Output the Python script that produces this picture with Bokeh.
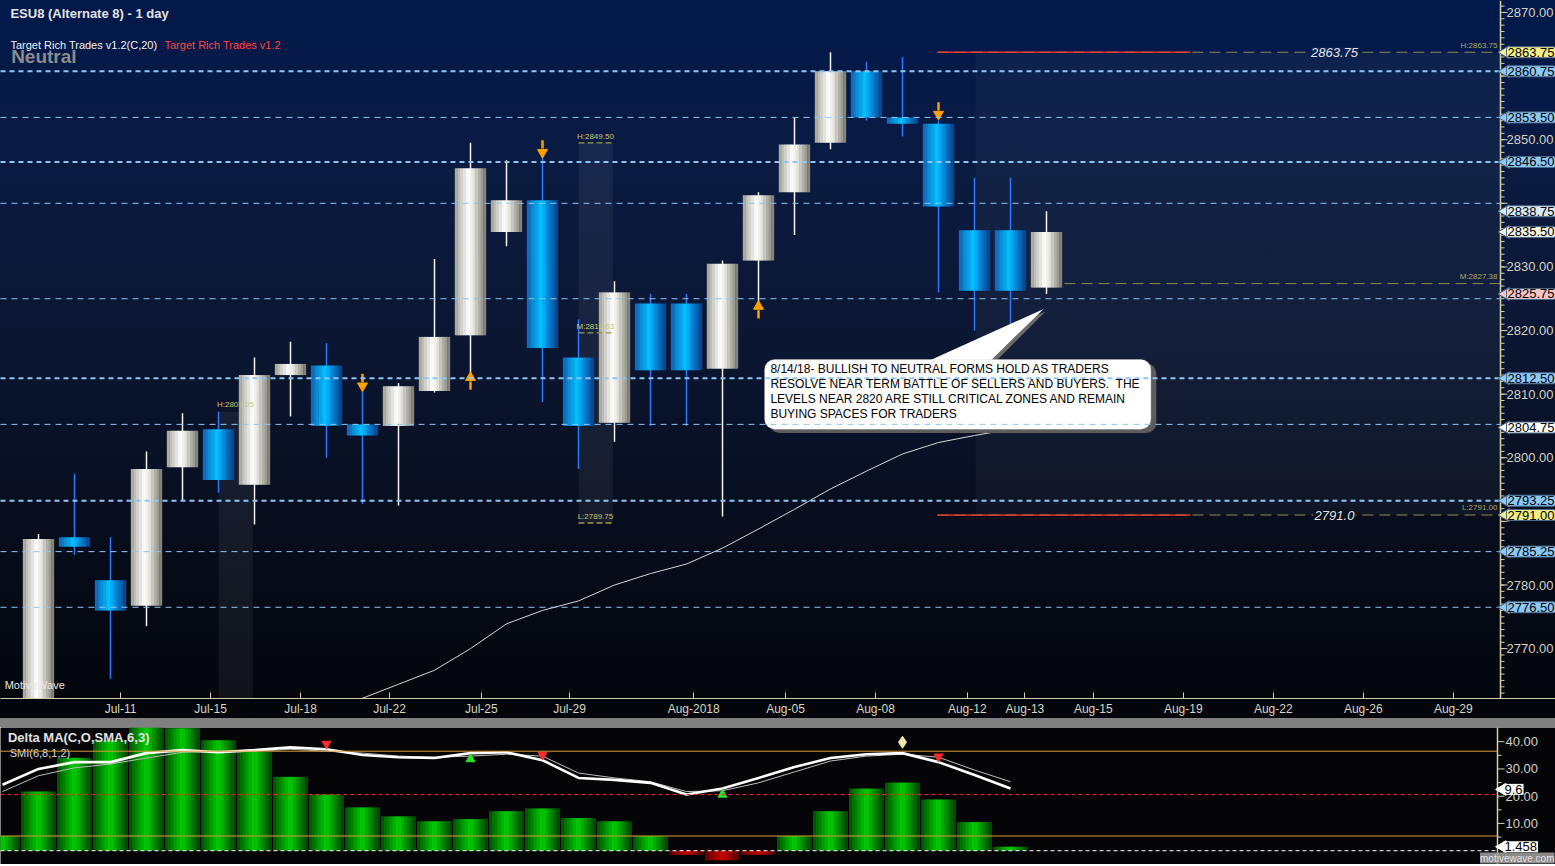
import numpy as np
from bokeh.plotting import figure
from bokeh.models import (Range1d, FixedTicker, Label, BoxAnnotation, ColumnDataSource, Div)
from bokeh.layouts import column
from bokeh.embed import file_html
from bokeh.resources import INLINE
from bokeh.core.properties import value

FONT = "Liberation Sans"

# ------------------------------------------------------------------ data
bar_index = list(range(29))
opens = [2755.0, 2787.5, 2780.75, 2776.75, 2798.5, 2804.5, 2795.75, 2813.0, 2814.5, 2805.25,
         2805.0, 2810.5, 2819.25, 2835.5, 2840.5, 2815.75, 2805.5, 2824.25, 2824.25, 2814.0,
         2831.0, 2841.75, 2849.5, 2860.75, 2853.5, 2852.5, 2835.75, 2835.75, 2826.75]
highs = [2788.0, 2797.5, 2787.5, 2801.0, 2807.0, 2807.25, 2815.75, 2818.25, 2818.0, 2812.75,
         2811.75, 2831.25, 2849.5, 2846.75, 2847.25, 2821.75, 2827.75, 2825.75, 2825.75, 2831.0,
         2841.75, 2853.5, 2863.75, 2862.25, 2863.0, 2853.0, 2844.0, 2844.0, 2838.75]
lows = [2750.0, 2784.75, 2765.25, 2773.5, 2793.25, 2794.5, 2789.5, 2806.5, 2800.0, 2792.75,
        2792.5, 2810.25, 2812.25, 2833.25, 2808.75, 2798.25, 2802.5, 2805.0, 2805.0, 2790.75,
        2824.5, 2835.0, 2848.5, 2853.0, 2850.5, 2826.0, 2820.0, 2820.75, 2825.75]
closes = [2787.25, 2786.0, 2776.0, 2798.25, 2804.25, 2796.5, 2813.0, 2814.75, 2805.0, 2803.5,
          2811.25, 2819.0, 2845.5, 2840.5, 2817.25, 2805.0, 2826.0, 2813.75, 2813.75, 2830.5,
          2841.25, 2849.25, 2860.75, 2853.5, 2852.5, 2839.5, 2826.25, 2826.25, 2835.5]

# Target Rich Trades (C,20) moving average
ma_index = list(range(8, 28))
ma_values = [2759.0, 2762.2, 2764.4, 2766.6, 2770.0, 2773.9, 2776.0, 2777.5, 2780.0, 2781.8,
             2783.3, 2785.8, 2788.8, 2791.9, 2795.1, 2797.9, 2800.6, 2802.4, 2803.5, 2804.5]

# date axis
x_tick_pos = [2.28, 4.78, 7.28, 9.75, 12.3, 14.75, 18.2, 20.75, 23.25, 25.8, 27.4, 29.3,
              31.8, 34.3, 36.8, 39.3]
x_tick_labels = ["Jul-11", "Jul-15", "Jul-18", "Jul-22", "Jul-25", "Jul-29", "Aug-2018",
                 "Aug-05", "Aug-08", "Aug-12", "Aug-13", "Aug-15", "Aug-19", "Aug-22",
                 "Aug-26", "Aug-29"]

price_ticks = [2770, 2780, 2790, 2800, 2810, 2820, 2830, 2840, 2850, 2860, 2870]
hidden_price_ticks = [2790, 2840, 2860]

# horizontal support / resistance levels
levels_major = [2860.75, 2846.5, 2812.5, 2793.25]
levels_minor = [2853.5, 2840.0, 2825.0, 2805.25, 2785.25, 2776.5]

# price tags on the right axis
tag_values = [2863.75, 2860.75, 2853.50, 2846.50, 2838.75, 2835.50, 2825.75, 2812.50,
              2804.75, 2793.25, 2791.00, 2785.25, 2776.50]
tag_colors = ["#f4ef8c", "#8cc8f8", "#8cc8f8", "#8cc8f8", "#d8ecf8", "#f4f2e0", "#f8c4c4",
              "#8cc8f8", "#ffffff", "#8cc8f8", "#eeee88", "#8cc8f8", "#8cc8f8"]

# Target Rich Trades range
trt_high = 2863.75
trt_low = 2791.00
trt_mid = 2827.38
session_high = 2849.50
session_mid = 2819.63
session_low = 2789.75
prev_session_high = 2807.25

# signal arrows
arrow_down_index = [9, 14, 25]
arrow_down_price = [2811.3, 2848.0, 2854.0]
arrow_up_index = [12, 20]
arrow_up_price = [2812.6, 2823.8]

note_text = ("8/14/18- BULLISH TO NEUTRAL FORMS HOLD AS TRADERS\n"
             "RESOLVE NEAR TERM BATTLE OF SELLERS AND BUYERS.\u00a0 THE\n"
             "LEVELS NEAR 2820 ARE STILL CRITICAL ZONES AND REMAIN\n"
             "BUYING SPACES FOR TRADERS")

# lower panel : Delta MA histogram + SMI
osc_index = list(range(-1, 28))
delta_ma = [5.4, 21.7, 34.1, 40.5, 45.3, 44.9, 40.5, 36.2, 27.1, 20.6, 15.9, 12.6, 10.8, 11.6,
            14.5, 15.5, 12.0, 10.8, 5.4, -1.5, -3.5, -1.5, 5.4, 14.5, 22.8, 25.0, 18.8, 10.5,
            1.458]
smi = [24.2, 30.0, 32.5, 32.5, 35.8, 36.9, 36.1, 36.9, 37.9, 37.2, 35.1, 34.3, 34.0, 35.8,
       36.1, 33.2, 26.7, 26.0, 24.9, 20.6, 22.8, 26.7, 30.7, 34.0, 35.4, 35.8, 32.5, 27.8, 22.8]
smi_signal = [21.7, 27.5, 30.4, 31.8, 34.0, 36.1, 36.5, 36.5, 37.2, 36.5, 35.8, 34.7, 34.3,
              34.7, 35.4, 34.7, 28.5, 26.7, 25.3, 21.7, 22.0, 24.9, 28.9, 32.9, 34.7, 35.4,
              34.3, 29.6, 25.3]
smi_sell_index = [8, 14, 25]
smi_buy_index = [12, 19]
smi_alert_index = [24]
osc_ticks = [10, 20, 30, 40]
osc_minor_ticks = [5, 15, 25, 35]
osc_upper, osc_lower, osc_mid = 36.5, 5.4, 20.6
smi_tag = 9.6

# ------------------------------------------------------------------ helpers
def hex2rgb(h):
    h = h.lstrip("#")
    return tuple(int(h[i:i + 2], 16) for i in (0, 2, 4))


def lerp_color(stops, t):
    for (t0, c0), (t1, c1) in zip(stops[:-1], stops[1:]):
        if t0 <= t <= t1:
            f = (t - t0) / (t1 - t0) if t1 > t0 else 0.0
            a, b = hex2rgb(c0), hex2rgb(c1)
            return "#%02x%02x%02x" % tuple(round(x + (y - x) * f) for x, y in zip(a, b))
    return stops[-1][1]


def shaded_bars(xs, bottoms, tops, width, stops, n=12):
    X, W, B, T, C = [], [], [], [], []
    for x, b, t in zip(xs, bottoms, tops):
        for k in range(n):
            f = (k + 0.5) / n
            X.append(x + (f - 0.5) * width)
            W.append(width / n * 1.15)
            B.append(b)
            T.append(t)
            C.append(lerp_color(stops, f))
    return ColumnDataSource(dict(x=X, w=W, bottom=B, top=T, color=C))


WHITE_STOPS = [(0.0, "#a2a298"), (0.42, "#ffffff"), (0.6, "#e6e6de"), (1.0, "#78786e")]
BLUE_STOPS = [(0.0, "#1660b4"), (0.45, "#00c4ff"), (0.62, "#0898e8"), (1.0, "#083e86")]
GREEN_STOPS = [(0.0, "#004c00"), (0.5, "#00d400"), (1.0, "#003e00")]
RED_STOPS = [(0.0, "#5a0000"), (0.5, "#d00000"), (1.0, "#4a0000")]

PPU = 36.0                      # pixels per bar
FRAME_W = 1555
X0 = -38.0 / PPU                # left edge of the frame
AXIS_X = X0 + 1500.0 / PPU      # price-axis line
XMAX = X0 + FRAME_W / PPU       # right edge of the canvas
Y0, Y1 = 2762.16, 2871.88
AXIS_COLOR = "#d4d0aa"
LABEL_COLOR = "#d2d2c4"

x_range = Range1d(X0, XMAX)

# ------------------------------------------------------------------ main price panel
p = figure(frame_width=FRAME_W, frame_height=698, x_range=x_range,
           y_range=Range1d(Y0, Y1), output_backend="svg", toolbar_location=None,
           y_axis_location=None, min_border_left=0, min_border_right=0,
           min_border_top=0, min_border_bottom=0)
p.background_fill_alpha = 0
p.border_fill_alpha = 0
p.outline_line_color = None
p.grid.visible = False
p.styles = {"background": "linear-gradient(to bottom, #02194b 0%, #0a1b42 22%, "
                          "#0b1632 48%, #070d1c 74%, #03050a 100%)"}

# shaded zones
p.add_layout(BoxAnnotation(left=26.03, right=AXIS_X, top=trt_high, bottom=trt_low,
                           fill_color="#ffffff", fill_alpha=0.035, line_color=None,
                           level="underlay"))
p.add_layout(BoxAnnotation(left=15.0, right=15.95, top=session_high, bottom=session_low,
                           fill_color="#ffffff", fill_alpha=0.06, line_color=None,
                           level="underlay"))
p.add_layout(BoxAnnotation(left=5.0, right=5.95, top=prev_session_high, bottom=None,
                           fill_color="#ffffff", fill_alpha=0.06, line_color=None,
                           level="underlay"))

# moving average
p.line(ma_index, ma_values, line_color="#d8d8d8", line_width=1)

# candles
up = [c >= o for o, c in zip(opens, closes)]
for is_up, stops, wick in ((True, WHITE_STOPS, "#f4f4f0"), (False, BLUE_STOPS, "#2a78ff")):
    ids = [i for i in bar_index if up[i] == is_up]
    p.segment(x0=ids, x1=ids, y0=[lows[i] for i in ids], y1=[highs[i] for i in ids],
              line_color=wick, line_width=1.5)
    src = shaded_bars(ids, [min(opens[i], closes[i]) for i in ids],
                      [max(opens[i], closes[i]) for i in ids], 0.86, stops)
    p.vbar(x="x", width="w", bottom="bottom", top="top", fill_color="color",
           line_color=None, source=src)

# arrows
p.segment(x0=arrow_down_index, x1=arrow_down_index,
          y0=[v + 0.6 for v in arrow_down_price], y1=[v + 1.9 for v in arrow_down_price],
          line_color="#ffa000", line_width=2.5)
p.scatter(arrow_down_index, arrow_down_price, marker="inverted_triangle", size=10,
          fill_color="#ffa000", line_color="#ffa000")
p.segment(x0=arrow_up_index, x1=arrow_up_index,
          y0=[v - 0.6 for v in arrow_up_price], y1=[v - 1.9 for v in arrow_up_price],
          line_color="#ffa000", line_width=2.5)
p.scatter(arrow_up_index, arrow_up_price, marker="triangle", size=10,
          fill_color="#ffa000", line_color="#ffa000")

# target rich trades range lines
for lev, x_start in ((trt_high, 24.97), (trt_low, 24.97), (trt_mid, 28.5)):
    p.segment(x0=[x_start], x1=[AXIS_X], y0=[lev], y1=[lev], line_color="#8c8c52",
              line_width=1, line_dash="11 6")
for lev in (trt_high, trt_low):
    p.segment(x0=[24.97], x1=[32.0], y0=[lev], y1=[lev], line_color="#ff3a28", line_width=1.2)

# session band labels with underlines
for lev, txt in ((session_high, "H:%.2f" % session_high), (session_mid, "M:%.2f" % session_mid),
                 (session_low, "L:%.2f" % session_low)):
    p.segment(x0=[15.0], x1=[15.95], y0=[lev], y1=[lev], line_color="#9a9a48",
              line_width=1.4, line_dash="6 3")
    p.add_layout(Label(x=15.47, y=lev + 0.35, text=txt, text_font=FONT, text_font_size="8px",
                       text_color="#c8c87a", text_align="center", text_baseline="bottom"))
p.add_layout(Label(x=5.47, y=prev_session_high + 0.35, text="H:%.2f" % prev_session_high,
                   text_font=FONT, text_font_size="8px", text_color="#c8c87a",
                   text_align="center", text_baseline="bottom"))

# callout with pointer
p.patch([24.85, 27.97, 26.6], [2815.2, 2823.0, 2815.2], fill_color="#6a6a6a", line_color=None)
p.patch([24.75, 27.92, 26.45], [2815.3, 2823.4, 2815.3], fill_color="#ffffff",
        line_color=None)
p.add_layout(BoxAnnotation(left=20.3, right=31.05, top=2814.85, bottom=2803.9,
                           fill_color="#5c5c5c", fill_alpha=1, line_color=None,
                           border_radius=10))
p.add_layout(BoxAnnotation(left=20.17, right=30.9, top=2815.45, bottom=2804.5,
                           fill_color="#ffffff", fill_alpha=1, line_color="#d0d0d0",
                           border_radius=10))

# level lines (drawn on top of the callout)
p.segment(x0=[X0] * len(levels_major), x1=[AXIS_X] * len(levels_major), y0=levels_major,
          y1=levels_major, line_color="#8ec6f6", line_width=2, line_dash="5 4",
          level="overlay")
p.segment(x0=[X0] * len(levels_minor), x1=[AXIS_X] * len(levels_minor), y0=levels_minor,
          y1=levels_minor, line_color="#8ec6f6", line_width=1, line_dash="6 5",
          level="overlay")

p.add_layout(Label(x=20.33, y=2815.0, text=note_text, text_font=FONT, text_font_size="12px",
                   text_color="#000000", text_align="left", text_baseline="top",
                   text_line_height=1.06, level="overlay"))

# range values
p.add_layout(Label(x=36.0, y=trt_high, text="%.2f" % trt_high, text_font=FONT,
                   text_font_size="13px", text_font_style="italic", text_color="#e4e4e4",
                   text_align="center", text_baseline="middle",
                   background_fill_color="#0c2050", padding=1))
p.add_layout(Label(x=36.0, y=trt_low, text="%.1f" % trt_low, text_font=FONT,
                   text_font_size="13px", text_font_style="italic", text_color="#e4e4e4",
                   text_align="center", text_baseline="middle",
                   background_fill_color="#0a101e", padding=1))
for lev, txt in ((trt_high, "H:%.2f" % trt_high), (trt_mid, "M:%.2f" % trt_mid),
                 (trt_low, "L:%.2f" % trt_low)):
    p.add_layout(Label(x=AXIS_X, y=lev + 0.4, x_offset=-3, text=txt, text_font=FONT,
                       text_font_size="8px", text_color="#a8a866", text_align="right",
                       text_baseline="bottom"))

# headers
p.add_layout(Label(x=-0.78, y=2871.0, text="ESU8 (Alternate 8) - 1 day", text_font=FONT,
                   text_font_size="13px", text_font_style="bold", text_color="#e2e2e2",
                   text_align="left", text_baseline="top"))
p.add_layout(Label(x=-0.76, y=2864.7, text="Neutral", text_font=FONT, text_font_size="19px",
                   text_font_style="bold", text_color="#8c8c8c", text_align="left",
                   text_baseline="top"))
p.add_layout(Label(x=-0.78, y=2865.9, text="Target Rich Trades v1.2(C,20)", text_font=FONT,
                   text_font_size="11px", text_color="#f0f0f0", text_align="left",
                   text_baseline="top"))
p.add_layout(Label(x=3.5, y=2865.9, text="Target Rich Trades v1.2", text_font=FONT,
                   text_font_size="11px", text_color="#ff4444", text_align="left",
                   text_baseline="top"))
p.add_layout(Label(x=-0.94, y=2763.3, text="MotiveWave", text_font=FONT,
                   text_font_size="11px", text_color="#e8e8e8", text_align="left",
                   text_baseline="bottom"))

# date axis (real axis)
xa = p.xaxis[0]
xa.ticker = FixedTicker(ticks=x_tick_pos)
xa.major_label_overrides = {pos: lab for pos, lab in zip(x_tick_pos, x_tick_labels)}
xa.axis_line_color = AXIS_COLOR
xa.major_tick_line_color = AXIS_COLOR
xa.major_tick_in = 6
xa.major_tick_out = 0
xa.minor_tick_line_color = None
xa.major_label_standoff = 3
xa.major_label_text_color = "#d8d6c0"
xa.major_label_text_font = FONT
xa.major_label_text_font_size = "12px"

# price scale on the right
minor_price = list(np.arange(2763.0, 2872.0, 1.0))
p.segment(x0=[AXIS_X], x1=[AXIS_X], y0=[Y0], y1=[Y1], line_color=AXIS_COLOR, line_width=1.5)
p.segment(x0=[AXIS_X] * len(minor_price), x1=[AXIS_X + 4 / PPU] * len(minor_price),
          y0=minor_price, y1=minor_price, line_color=AXIS_COLOR, line_width=1)
p.segment(x0=[AXIS_X] * len(price_ticks), x1=[AXIS_X + 7 / PPU] * len(price_ticks),
          y0=price_ticks, y1=price_ticks, line_color=AXIS_COLOR, line_width=1)
shown_ticks = [t for t in price_ticks if t not in hidden_price_ticks]
p.text(x=[AXIS_X] * len(shown_ticks), y=shown_ticks, text=["%.2f" % t for t in shown_ticks],
       x_offset=6, text_font=value(FONT), text_font_size="13px", text_color=LABEL_COLOR,
       text_align="left", text_baseline="middle")

p.scatter(x=[AXIS_X + 5 / PPU] * len(tag_values), y=tag_values, marker="triangle",
          angle=np.pi / 2, size=13, fill_color=tag_colors, line_color="#4a6888",
          level="overlay")
for v, c in zip(tag_values, tag_colors):
    p.add_layout(Label(x=AXIS_X, y=v, x_offset=6, text="%.2f" % v, text_font=FONT,
                       text_font_size="13px", text_color="#000000", text_align="left",
                       text_baseline="middle", background_fill_color=c,
                       border_line_color="#4a6888", padding=1, border_radius=2,
                       level="overlay"))

# ------------------------------------------------------------------ separator
sep = Div(width=FRAME_W, height=9, margin=0, styles={"background-color": "#808080"})

# ------------------------------------------------------------------ lower panel
OY0, OY1 = -5.06, 45.2
q = figure(frame_width=FRAME_W, frame_height=137, x_range=x_range, y_range=Range1d(OY0, OY1),
           output_backend="svg", toolbar_location=None, y_axis_location=None,
           x_axis_location=None, min_border_left=0, min_border_right=0, min_border_top=0,
           min_border_bottom=0)
q.background_fill_color = "#050507"
q.border_fill_color = "#050507"
q.outline_line_color = None
q.grid.visible = False

pos_i = [i for i, v in zip(osc_index, delta_ma) if v >= 0]
neg_i = [i for i, v in zip(osc_index, delta_ma) if v < 0]
q.vbar(x="x", width="w", bottom="bottom", top="top", fill_color="color", line_color=None,
       source=shaded_bars(pos_i, [0] * len(pos_i),
                          [v for v in delta_ma if v >= 0], 0.96, GREEN_STOPS))
q.vbar(x="x", width="w", bottom="bottom", top="top", fill_color="color", line_color=None,
       source=shaded_bars(neg_i, [0] * len(neg_i),
                          [v for v in delta_ma if v < 0], 0.96, RED_STOPS))

q.segment(x0=[X0, X0], x1=[AXIS_X - 3 / PPU] * 2, y0=[osc_upper, osc_lower],
          y1=[osc_upper, osc_lower], line_color="#d89a3a", line_width=1, level="overlay")
q.segment(x0=[X0], x1=[AXIS_X - 3 / PPU], y0=[osc_mid], y1=[osc_mid], line_color="#ff2020",
          line_width=1, line_dash="4 3", level="overlay")
q.segment(x0=[X0], x1=[AXIS_X - 3 / PPU], y0=[0], y1=[0], line_color="#ffffff",
          line_width=1, line_dash="4 3", level="overlay")

q.line(osc_index, smi_signal, line_color="#bdbdbd", line_width=1)
q.line(osc_index, smi, line_color="#ffffff", line_width=2.6)

q.scatter(smi_sell_index, [smi[osc_index.index(i)] + 2.0 for i in smi_sell_index],
          marker="inverted_triangle", size=9, fill_color="#ff2a2a", line_color="#ff2a2a")
q.scatter(smi_buy_index, [smi[osc_index.index(i)] - 2.2 for i in smi_buy_index],
          marker="triangle", size=9, fill_color="#30e030", line_color="#30e030")
q.scatter(smi_alert_index, [smi[osc_index.index(i)] + 4.0 for i in smi_alert_index],
          marker="diamond", size=12, fill_color="#f0e8a8", line_color="#f0e8a8")

q.add_layout(Label(x=-0.85, y=44.4, text="Delta MA(C,O,SMA,6,3)", text_font=FONT,
                   text_font_size="13px", text_font_style="bold", text_color="#e2e2e2",
                   text_align="left", text_baseline="top"))
q.add_layout(Label(x=-0.8, y=38.2, text="SMI(6,8,1,2)", text_font=FONT,
                   text_font_size="11px", text_color="#dcdcdc", text_align="left",
                   text_baseline="top"))

# oscillator scale on the right
OAX = AXIS_X - 3 / PPU
q.segment(x0=[OAX], x1=[OAX], y0=[OY0], y1=[OY1], line_color=AXIS_COLOR, line_width=1.5)
q.segment(x0=[OAX] * len(osc_ticks), x1=[OAX + 7 / PPU] * len(osc_ticks), y0=osc_ticks,
          y1=osc_ticks, line_color=AXIS_COLOR, line_width=1)
q.segment(x0=[OAX] * len(osc_minor_ticks), x1=[OAX + 4 / PPU] * len(osc_minor_ticks),
          y0=osc_minor_ticks, y1=osc_minor_ticks, line_color=AXIS_COLOR, line_width=1)
q.text(x=[OAX] * len(osc_ticks), y=osc_ticks, text=["%.2f" % t for t in osc_ticks],
       x_offset=8, text_font=value(FONT), text_font_size="13px", text_color=LABEL_COLOR,
       text_align="left", text_baseline="middle")

for yv, txt in ((22.5, "%.1f" % smi_tag), (delta_ma[-1], "%.3f" % delta_ma[-1])):
    q.scatter(x=[OAX + 5 / PPU], y=[yv], marker="triangle", angle=np.pi / 2, size=12,
              fill_color="#ffffff", line_color="#ffffff", level="overlay")
    q.add_layout(Label(x=OAX, y=yv, x_offset=6, text=txt, text_font=FONT,
                       text_font_size="13px", text_color="#000000", text_align="left",
                       text_baseline="middle", background_fill_color="#ffffff", padding=1,
                       level="overlay"))
q.add_layout(Label(x=XMAX, y=OY0, x_offset=-1, y_offset=1, text="motivewave.com",
                   text_font=FONT, text_font_size="10px", text_color="#e4e4e4",
                   text_align="right", text_baseline="bottom",
                   background_fill_color="#8a8a8a", padding=0, level="overlay"))

layout = column(p, sep, q, spacing=0)
open("out.html", "w").write(file_html(layout, INLINE))
